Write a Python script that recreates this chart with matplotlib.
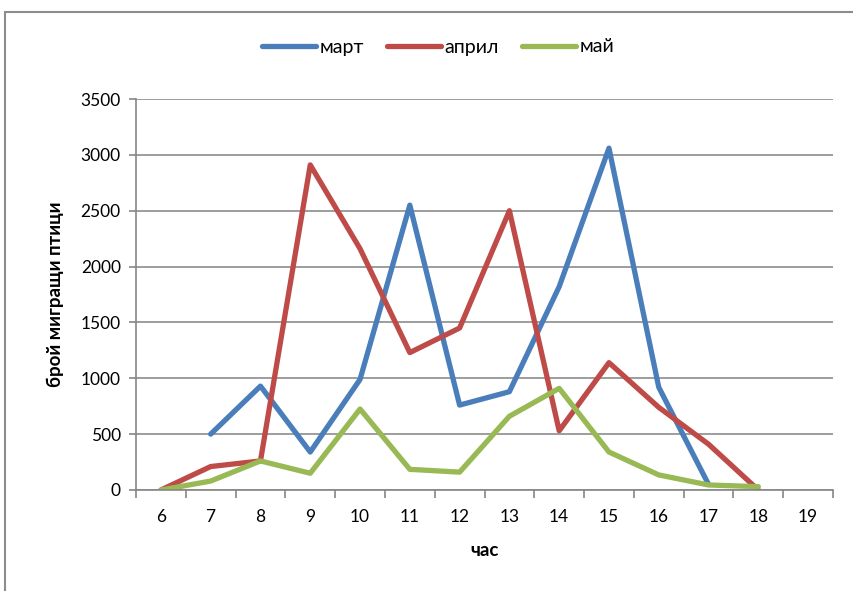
import numpy as np
import matplotlib
matplotlib.use('Agg')
import matplotlib.pyplot as plt
from matplotlib.patches import Rectangle

plt.rcParams['font.family'] = ['Lato', 'DejaVu Sans']

hours = [6, 7, 8, 9, 10, 11, 12, 13, 14, 15, 16, 17, 18, 19]
# None = no count for that hour
mart = [None, 500, 930, 340, 990, 2550, 760, 880, 1820, 3060, 920, 50, None, None]
april = [0, 210, 260, 2910, 2160, 1230, 1450, 2500, 530, 1140, 740, 410, 0, None]
mai = [0, 80, 260, 150, 725, 185, 160, 660, 910, 340, 135, 45, 30, None]

series = [('март', mart, '#4A7EBB'),
          ('април', april, '#BE4B48'),
          ('май', mai, '#98B954')]

fig = plt.figure(figsize=(8.54, 5.91), dpi=100)
ax = fig.add_axes([136 / 854, 101 / 591, 697 / 854, 391 / 591])

x = np.arange(len(hours))
for name, vals, col in series:
    y = np.array([np.nan if v is None else v for v in vals], dtype=float)
    ax.plot(x, y, color=col, lw=3.8, label=name,
            solid_joinstyle='round', solid_capstyle='round')

ax.set_xlim(-0.5, len(hours) - 0.5)
ax.set_ylim(0, 3500)
ax.set_yticks(np.arange(0, 3501, 500))
ax.set_xticks(x)
ax.set_xticklabels([str(h) for h in hours])
ax.set_xticks(np.arange(-0.5, len(hours), 1), minor=True)
ax.tick_params(axis='x', which='major', length=0, pad=14, labelsize=12.5)
ax.tick_params(axis='x', which='minor', length=6, width=1.2, color='#868686')
ax.tick_params(axis='y', length=5, width=1.2, color='#868686', pad=6, labelsize=12.5)

ax.grid(axis='y', color='#8C8C8C', lw=1.2)
ax.set_axisbelow(True)
for s in ['top', 'right']:
    ax.spines[s].set_visible(False)
for s in ['left', 'bottom']:
    ax.spines[s].set_color('#868686')
    ax.spines[s].set_linewidth(1.2)

ax.set_xlabel('час', fontweight='bold', fontsize=13.5, labelpad=12)
ax.set_ylabel('брой мигращи птици', fontweight='bold', fontsize=13.5, labelpad=12)

leg = fig.legend(loc='center', bbox_to_anchor=(438 / 854, 1 - 47 / 591), ncol=3,
                 frameon=False, fontsize=14, handlelength=2.8,
                 handletextpad=0.15, columnspacing=1.2)

# outer chart frame
fig.patches.append(Rectangle((5 / 854, -0.01), 1.0, 1 - 12 / 591 + 0.01,
                             transform=fig.transFigure, fill=False,
                             edgecolor='#8C8C8C', lw=1.5))

fig.savefig('out.png', dpi=100)
